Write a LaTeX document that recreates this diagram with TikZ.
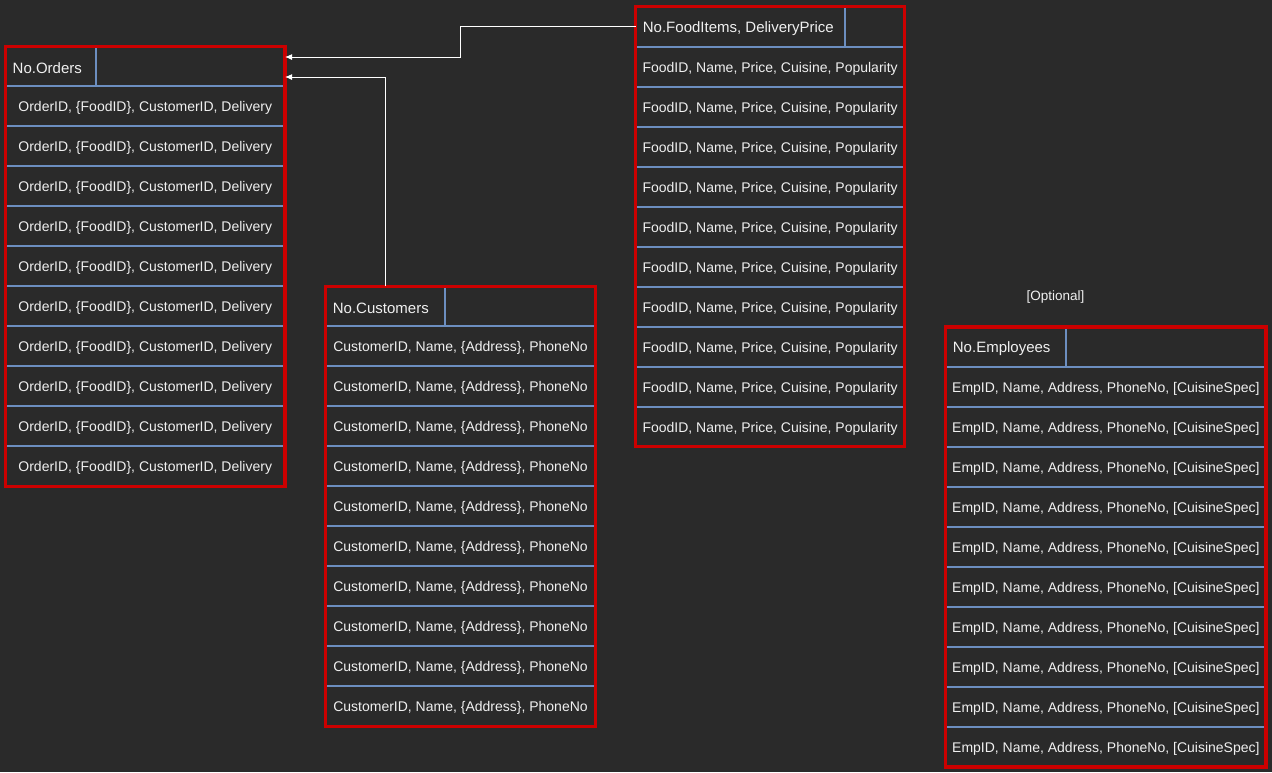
\documentclass[tikz,border=0pt]{standalone}
\usepackage{fontspec}
\setmainfont{Liberation Sans}
\usetikzlibrary{arrows.meta,calc}
\definecolor{bg}{HTML}{2A2A2A}
\definecolor{redb}{HTML}{CC0000}
\definecolor{blueb}{HTML}{6C8EBF}
\definecolor{txt}{HTML}{F0F0F0}
\tikzset{
  tablebox/.style={draw=redb,line width=3.5pt,rectangle,inner sep=0pt,outer sep=0pt,anchor=north west},
  headbox/.style={rectangle,inner sep=0pt,outer sep=0pt,anchor=north west,minimum height=40pt},
  headtext/.style={text=txt,anchor=west,inner sep=0pt,yshift=-2pt,font=\fontsize{15}{17}\selectfont},
  rowtext/.style={text=txt,inner sep=0pt,yshift=-2pt,font=\fontsize{14}{16}\selectfont},
  sepline/.style={draw=blueb,line width=2pt},
  conn/.style={draw=white,line width=1pt,-{Latex[length=7pt,width=6pt]}},
  note/.style={text=txt,inner sep=0pt,yshift=-1pt,font=\fontsize{13.5}{15}\selectfont}
}
% #1 name, #2 x0, #3 y0, #4 width, #5 divider x, #6 header, #7 row text
\newcommand{\dbtable}[7]{%
  \node[headbox,minimum width=#4pt] (#1-h) at (#2,#3) {};
  \node[headtext] (#1-ht) at ({#2+7},{#3+20}) {#6};
  \foreach \k in {1,...,10}{
    \draw[sepline] ({#2+1.5},{#3+40*\k}) -- ({#2+#4-1.5},{#3+40*\k});
    \node[rowtext] (#1-r\k) at ({#2+#4/2},{#3+40*\k+20}) {#7};
  }
  \draw[sepline] (#5,{#3+1.5}) -- (#5,{#3+40});
  \node[tablebox,minimum width=#4pt,minimum height=440pt] (#1) at (#2,#3) {};
}
\begin{document}
\begin{tikzpicture}[x=1pt,y=-1pt]
  \fill[bg] (0,0) rectangle (1272,772);
  \useasboundingbox (0,0) rectangle (1272,772);

  \dbtable{orders}{5.5}{46.3}{279.5}{95.5}{No.Orders}{OrderID, \{FoodID\}, CustomerID, Delivery}
  \dbtable{customers}{325.7}{286.3}{269.6}{445.3}{No.Customers}{CustomerID, Name, \{Address\}, PhoneNo}
  \dbtable{foods}{635.7}{6.7}{268.8}{845.3}{No.FoodItems, DeliveryPrice}{FoodID, Name, Price, Cuisine, Popularity}
  \dbtable{emps}{945.7}{327}{320.3}{1065.8}{No.Employees}{EmpID, Name, Address, PhoneNo, [CuisineSpec]}

  \node[note] (optional) at (1055.5,296) {[Optional]};

  \coordinate (ordersIn1) at ($(orders.north east)+(0,10.7)$);
  \coordinate (ordersIn2) at ($(orders.north east)+(0,30.7)$);
  \coordinate (custOut) at ($(customers.north west)+(59.5,0)$);
  \coordinate (foodOut) at ($(foods.north west)+(0,20)$);

  \draw[conn] (foodOut) -- ++(-175.5,0) |- (ordersIn1);
  \draw[conn] (custOut) |- (ordersIn2);
\end{tikzpicture}
\end{document}
